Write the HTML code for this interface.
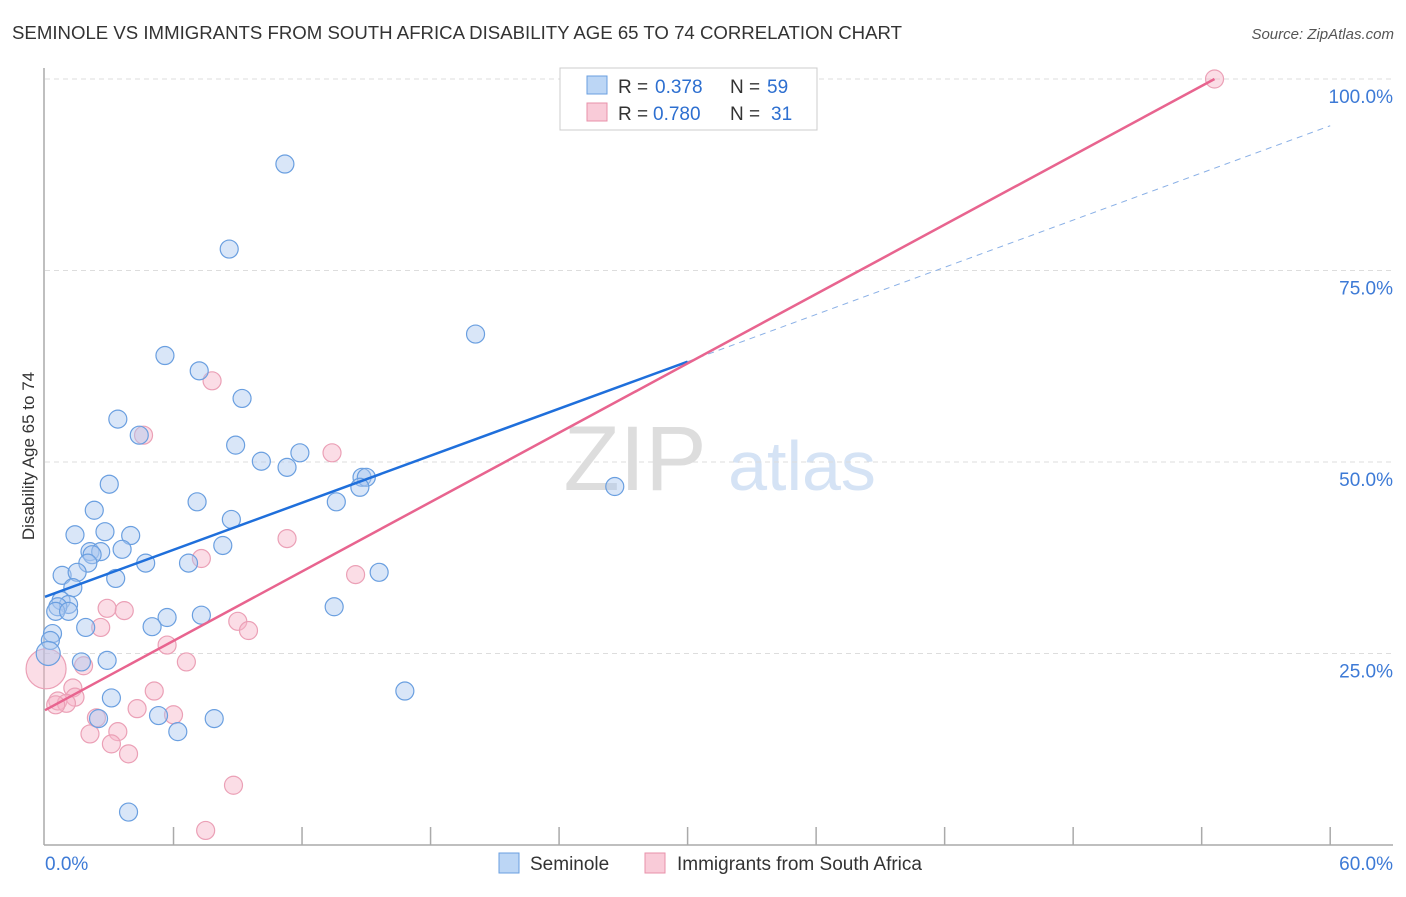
<!DOCTYPE html>
<html><head><meta charset="utf-8">
<style>
body{margin:0;background:#fff;font-family:"Liberation Sans",sans-serif;}
svg text{font-family:"Liberation Sans",sans-serif;}
</style></head>
<body>
<svg id="chart" width="1406" height="892" xmlns="http://www.w3.org/2000/svg">
<text x="12" y="39" font-size="18" fill="#333" textLength="890" lengthAdjust="spacingAndGlyphs">SEMINOLE VS IMMIGRANTS FROM SOUTH AFRICA DISABILITY AGE 65 TO 74 CORRELATION CHART</text>
<text x="1394" y="39" font-size="15" fill="#555" text-anchor="end" font-style="italic">Source: ZipAtlas.com</text>
<text transform="translate(34,456) rotate(-90)" font-size="17" fill="#333" text-anchor="middle">Disability Age 65 to 74</text>
<g>
<text x="635" y="490" font-size="92" fill="#ddd" text-anchor="middle" font-family="Liberation Serif">ZIP</text>
<text x="802" y="490" font-size="70" fill="#d5e3f5" text-anchor="middle">atlas</text>
</g>
<g id="grid"></g><g id="axes"></g><g id="pts"></g><g id="lines"></g>
<g>
<rect x="560" y="68" width="257" height="62" fill="#fff" stroke="#ccc"/>
<rect x="587" y="76" width="20" height="18" fill="#bcd6f5" stroke="#6a9fe0"/>
<text x="618" y="93" font-size="19" fill="#333">R =</text>
<text x="655" y="93" font-size="19" fill="#2d6fd0">0.378</text>
<text x="730" y="93" font-size="19" fill="#333">N =</text>
<text x="767" y="93" font-size="19" fill="#2d6fd0">59</text>
<rect x="587" y="103" width="20" height="18" fill="#f9cbd8" stroke="#e890aa"/>
<text x="618" y="120" font-size="19" fill="#333">R =</text>
<text x="653" y="120" font-size="19" fill="#2d6fd0">0.780</text>
<text x="730" y="120" font-size="19" fill="#333">N =</text>
<text x="771" y="120" font-size="19" fill="#2d6fd0">31</text>
</g>
<g>
<rect x="499" y="853" width="20" height="20" fill="#bcd6f5" stroke="#6a9fe0"/>
<text x="530" y="870" font-size="19" fill="#333">Seminole</text>
<rect x="645" y="853" width="20" height="20" fill="#f9cbd8" stroke="#e890aa"/>
<text x="677" y="870" font-size="19" fill="#333">Immigrants from South Africa</text>
</g>
</svg>
<script>
const xTicks=[0,60];
const yTicks=[25,50,75,100];
const blueX=[11.2,8.6,20.1,5.6,7.2,9.2,3.4,4.4,8.9,11.9,10.1,11.3,14.8,15.0,14.7,26.6,3.0,7.1,13.6,2.3,8.7,1.4,2.8,4.0,8.3,2.1,2.6,2.2,3.6,2.0,4.7,6.7,0.8,1.5,3.3,15.6,1.3,0.75,1.1,0.6,0.5,1.1,7.3,5.7,13.5,1.9,5.0,0.35,0.25,0.15,1.7,2.9,16.8,3.1,2.5,5.3,7.9,6.2,3.9];
const blueY=[88.9,77.8,66.7,63.9,61.9,58.3,55.6,53.5,52.2,51.2,50.1,49.3,48.0,48.0,46.7,46.8,47.1,44.8,44.8,43.7,42.5,40.5,40.9,40.4,39.1,38.3,38.3,37.9,38.6,36.8,36.8,36.8,35.2,35.6,34.8,35.6,33.6,31.9,31.4,31.1,30.5,30.5,30.0,29.7,31.1,28.4,28.5,27.6,26.7,25.0,23.9,24.1,20.1,19.2,16.5,16.9,16.5,14.8,4.3];
const pinkX=[54.6,7.8,4.6,13.4,11.3,7.3,14.5,2.9,3.7,2.6,9.0,9.5,5.7,6.6,1.8,0.05,1.3,5.1,1.4,0.6,1.0,4.3,6.0,2.4,2.1,3.4,3.1,3.9,8.8,7.5,0.5];
const pinkY=[100,60.6,53.5,51.2,40.0,37.4,35.3,30.9,30.6,28.4,29.2,28.0,26.1,23.9,23.4,23.0,20.5,20.1,19.3,18.8,18.5,17.8,17.0,16.6,14.5,14.8,13.2,11.9,7.8,1.9,18.3];
const blueLine=[[0,32.4],[30,63.1]], blueDash=[[30,63.1],[60,93.9]];
const pinkLine=[[0,17.6],[54.6,100]];
const X=v=>45+v*21.42, Y=v=>845-v*7.66;
const ns="http://www.w3.org/2000/svg";
function mk(p,t,a){const e=document.createElementNS(ns,t);for(const k in a)e.setAttribute(k,a[k]);document.getElementById(p).appendChild(e);return e;}
yTicks.forEach(t=>{
 const l=mk('grid','line',{x1:45,x2:1393,y1:Y(t),y2:Y(t),stroke:'#ddd','stroke-dasharray':'5,4'});
 
 
 const tx=mk('grid','text',{x:1393,y:Y(t)+24,'font-size':19,fill:'#3d7ad6','text-anchor':'end'});
 tx.textContent=t.toFixed(1)+'%';
 
 
});
mk('axes','line',{x1:44,x2:44,y1:68,y2:845,stroke:'#aaa','stroke-width':1.5});
mk('axes','line',{x1:44,x2:1393,y1:845,y2:845,stroke:'#aaa','stroke-width':1.5});
for(let i=1;i<=10;i++){mk('axes','line',{x1:X(i*6),x2:X(i*6),y1:827,y2:845,stroke:'#aaa','stroke-width':1.5});}
xTicks.forEach((t,i)=>{
 const tx=mk('axes','text',{x:i?1393:45,y:870,'font-size':19,fill:'#3d7ad6','text-anchor':i?'end':'start'});
 tx.textContent=t.toFixed(1)+'%';
 
 
});
pinkX.forEach((v,i)=>{
 const c=mk('pts','circle',{cx:X(v),cy:Y(pinkY[i]),r:(i==15?20:9),fill:'rgba(246,180,200,0.45)',stroke:'#eba0b6','stroke-width':1.2});
 
 
});
blueX.forEach((v,i)=>{
 const c=mk('pts','circle',{cx:X(v),cy:Y(blueY[i]),r:(i==49?12:9),fill:'rgba(170,200,240,0.45)',stroke:'#6a9fe0','stroke-width':1.2});
 
 
});
let l=mk('lines','line',{x1:X(blueLine[0][0]),y1:Y(blueLine[0][1]),x2:X(blueLine[1][0]),y2:Y(blueLine[1][1]),stroke:'#1f6fdb','stroke-width':2.5});


l=mk('lines','line',{x1:X(blueDash[0][0]),y1:Y(blueDash[0][1]),x2:X(blueDash[1][0]),y2:Y(blueDash[1][1]),stroke:'#8ab0e6','stroke-width':1,'stroke-dasharray':'6,5'});


l=mk('lines','line',{x1:X(pinkLine[0][0]),y1:Y(pinkLine[0][1]),x2:X(pinkLine[1][0]),y2:Y(pinkLine[1][1]),stroke:'#e8648f','stroke-width':2.5});


</script>
</body></html>
